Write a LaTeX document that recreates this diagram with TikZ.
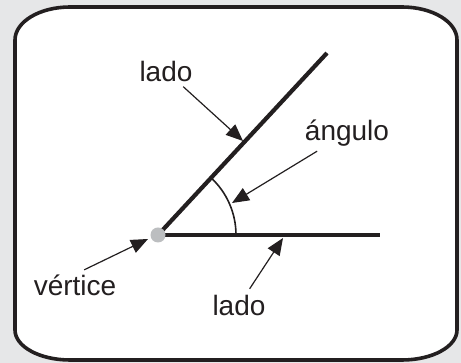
\documentclass[tikz,border=0pt]{standalone}
\usepackage{fontspec}
\setmainfont{Liberation Sans}
\usetikzlibrary{arrows.meta,calc}
\definecolor{ink}{HTML}{231F20}
\definecolor{pagebg}{HTML}{E6E7E8}
\definecolor{dotc}{HTML}{BCBEC0}
\tikzset{
  frame/.style={draw=ink,line width=1.8pt,fill=white},
  ray/.style={draw=ink,line width=2.1pt},
  anglearc/.style={draw=ink,line width=0.8pt},
  lbl/.style={inner sep=1.5pt,font=\fontsize{14}{16}\selectfont,text=ink},
  pointer/.style={draw=ink,line width=0.6pt,
    -{Triangle[length=8.5pt,width=7pt]},shorten <=1.5pt},
  vdot/.style={circle,fill=dotc,inner sep=0pt,minimum size=7.5pt},
}
\begin{document}
\begin{tikzpicture}[x=0.5pt,y=0.5pt]
  % page and frame
  \fill[pagebg] (0,0) rectangle (461,363);
  \useasboundingbox (0,0) rectangle (461,363);
  \path[frame] (70,3) -- (402,3)
    arc[start angle=270,end angle=360,x radius=55,y radius=30] -- (457,323)
    arc[start angle=0,end angle=90,x radius=55,y radius=33] -- (70,356)
    arc[start angle=90,end angle=180,x radius=55,y radius=33] -- (15,33)
    arc[start angle=180,end angle=270,x radius=55,y radius=30] -- cycle;
  % the angle
  \coordinate (v) at (158,128);
  \coordinate (topend) at (327,310);
  \coordinate (rightend) at (380,128);
  \draw[ray] (v) -- (topend);
  \draw[ray] (v) -- (rightend);
  \draw[anglearc] ($(v)+(78,0)$) arc[start angle=0,end angle=47,radius=78];
  \node[vdot] (dot) at (v) {};
  % labels
  \node[lbl] (ladoA) at (166,292) {lado};
  \node[lbl] (ang) at (347,230) {ángulo};
  \node[lbl] (vert) at (75,78) {vértice};
  \node[lbl] (ladoB) at (239,58) {lado};
  % arrow tips
  \coordinate (tipA) at (243,222);
  \coordinate (tipAng) at (232,160);
  \coordinate (tipV) at (148,124);
  \coordinate (tipB) at (283,125);
  \draw[pointer] (ladoA) -- (tipA);
  \draw[pointer] (ang) -- (tipAng);
  \draw[pointer] (vert.65) -- (tipV);
  \draw[pointer] (ladoB) -- (tipB);
\end{tikzpicture}
\end{document}
